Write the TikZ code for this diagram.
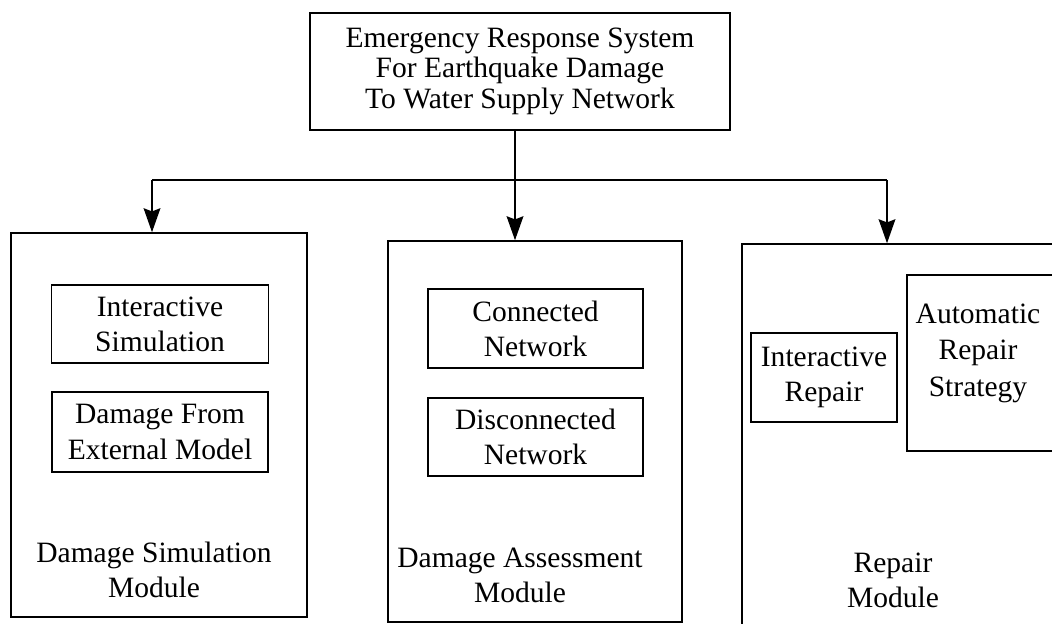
\documentclass[tikz,border=0pt]{standalone}
\usepackage{fontspec}
\setmainfont{Liberation Serif}
\usetikzlibrary{arrows.meta}

\begin{document}
\begin{tikzpicture}[
		branch/.style={line width=1.1pt},
		arrow/.style={branch, -{Stealth[length=0.6cm, width=0.42cm, inset=0.08cm]}},
		textual/.style={align=center, font=\fontsize{21}{25}\selectfont},
		mainBox/.style={draw, line width=1.1pt, textual, font=\fontsize{21}{22}\selectfont},
		moduleBox/.style={draw, line width=1.1pt},
		subBox/.style={draw, line width=1.1pt, textual}]
		
		\useasboundingbox (0,0) rectangle (26.3,15.575);
		\clip (0,0) rectangle (26.3,15.575);
		
		\coordinate (barL) at (3.8, 11.075);
		\coordinate (barM) at (12.875, 11.075);
		\coordinate (barR) at (22.175, 11.075);
		
		\node [mainBox, minimum width=10.5cm, minimum height=2.925cm] (ers) at (13.0, 13.79) {Emergency Response System\\For Earthquake Damage\\To Water Supply Network};
		
		\node [moduleBox, minimum width=7.4cm, minimum height=9.6cm] (dsm) at (3.975, 4.95) {};
		\node [moduleBox, minimum width=7.35cm, minimum height=9.525cm] (dam) at (13.375, 4.7875) {};
		\node [moduleBox, minimum width=8.95cm, minimum height=10.4cm] (rep) at (23.025, 4.275) {};
		
		\node [subBox, minimum width=5.425cm, minimum height=1.95cm] (isim) at (4.0, 7.475) {Interactive\\Simulation};
		\node [subBox, minimum width=5.4cm, minimum height=2.0cm] (dext) at (4.0, 4.775) {Damage From\\External Model};
		\node [subBox, minimum width=5.375cm, minimum height=1.975cm] (conn) at (13.3875, 7.3625) {Connected\\Network};
		\node [subBox, minimum width=5.375cm, minimum height=1.95cm] (disc) at (13.3875, 4.65) {Disconnected\\Network};
		\node [subBox, minimum width=3.65cm, minimum height=2.225cm] (irep) at (20.6, 6.1375) {Interactive\\Repair};
		\node [subBox, minimum width=4.825cm, minimum height=4.4cm] (arep) at (25.0875, 6.5) {};
		\node [textual, font=\fontsize{21}{26}\selectfont] (arepText) at (24.45, 6.75) {Automatic\\Repair\\Strategy};
		
		\node [textual] (dsmText) at (3.85, 1.3375) {Damage Simulation\\Module};
		\node [textual] (damText) at (13.0, 1.2) {Damage Assessment\\Module};
		\node [textual] (repText) at (22.325, 1.075) {Repair\\Module};
		
		\draw [branch] (ers.south -| barM) -- (barM);
		\draw [branch] (barL) -- (barR);
		\draw [arrow] (barL) -- (dsm.north -| barL);
		\draw [arrow] (barM) -- (dam.north -| barM);
		\draw [arrow] (barR) -- (rep.north -| barR);
	\end{tikzpicture}
\end{document}
